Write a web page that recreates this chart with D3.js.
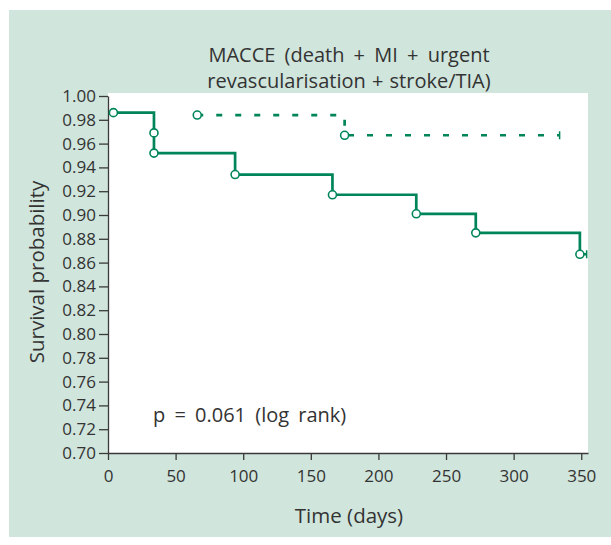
<!DOCTYPE html>
<html>
<head>
<meta charset="utf-8">
<script src="https://cdn.jsdelivr.net/npm/d3@7"></script>
<style>
  body { margin: 0; background: #fff; }
  text { font-family: "Open Sans", "Noto Sans", sans-serif; fill: #333; }
</style>
</head>
<body>
<script>
// solid curve: event times / survival after each step, then censored end
var solidTimes = [4, 34, 34, 94, 166, 228, 272, 349];
var solidSurv = [0.986, 0.969, 0.952, 0.934, 0.917, 0.901, 0.885, 0.867];
var solidCensor = 354;

// dashed curve
var dashTimes = [66, 175];
var dashSurv = [0.984, 0.967];
var dashCensor = 334;

var xTicks = [0, 50, 100, 150, 200, 250, 300, 350];
var yTicks = d3.range(0.70, 1.001, 0.02);

var titleLines = ["MACCE (death + MI + urgent", "revascularisation + stroke/TIA)"];
var pText = "p = 0.061 (log rank)";

var width = 611, height = 545;
var green = "#00855a";

var svg = d3.select("body").append("svg")
  .attr("width", width)
  .attr("height", height);

// panel
svg.append("rect")
  .attr("x", 9).attr("y", 10)
  .attr("width", width - 9).attr("height", 527)
  .attr("fill", "#d0e5dc");

var x = d3.scaleLinear().domain([0, 355]).range([108, 588]);
var y = d3.scaleLinear().domain([0.70, 1.00]).range([453, 96]);

svg.append("rect")
  .attr("x", x(0)).attr("y", 93)
  .attr("width", x(355) - x(0)).attr("height", y(0.70) - 93)
  .attr("fill", "white");

// title
svg.selectAll("text.title")
  .data(titleLines)
  .enter().append("text")
  .attr("class", "title")
  .attr("x", 349)
  .attr("y", function(d, i) { return 62 + i * 26; })
  .attr("text-anchor", "middle")
  .attr("font-size", 20)
  .attr("word-spacing", function(d, i) { return i == 0 ? 4 : 1; })
  .text(function(d) { return d; });

// axes
var xAxis = svg.append("g")
  .attr("transform", "translate(0," + y(0.70) + ")")
  .call(d3.axisBottom(x).tickValues(xTicks).tickSize(7).tickSizeOuter(0).tickPadding(10));
var yAxis = svg.append("g")
  .attr("transform", "translate(" + x(0) + ",0)")
  .call(d3.axisLeft(y).tickValues(yTicks).tickFormat(d3.format(".2f")).tickSize(9).tickSizeOuter(0).tickPadding(3));

[xAxis, yAxis].forEach(function(a) {
  a.selectAll("path, line").attr("stroke", "#3a3a3a").attr("stroke-width", 1.3);
  a.selectAll("text").attr("font-size", 17).attr("fill", "#333")
    .attr("font-family", "'Open Sans', 'Noto Sans', sans-serif");
});

svg.append("text")
  .attr("x", 349).attr("y", 523)
  .attr("text-anchor", "middle")
  .attr("font-size", 20.5)
  .text("Time (days)");

svg.append("text")
  .attr("transform", "translate(44,272) rotate(-90)")
  .attr("text-anchor", "middle")
  .attr("font-size", 20.5)
  .text("Survival probability");

svg.append("text")
  .attr("x", 153).attr("y", 422)
  .attr("font-size", 20)
  .attr("word-spacing", 4)
  .text(pText);

// curves
var step = d3.line()
  .x(function(d) { return x(d[0]); })
  .y(function(d) { return y(d[1]); })
  .curve(d3.curveStepAfter);

var solidPts = solidTimes.map(function(t, i) { return [t, solidSurv[i]]; });
var solidLine = solidPts.concat([[solidCensor, solidSurv[solidSurv.length - 1]]]);
var dashPts = dashTimes.map(function(t, i) { return [t, dashSurv[i]]; });
var dashLine = dashPts.concat([[dashCensor, dashSurv[dashSurv.length - 1]]]);

svg.append("path")
  .attr("d", step(solidLine))
  .attr("fill", "none")
  .attr("stroke", green)
  .attr("stroke-width", 2.7);

svg.append("path")
  .attr("d", step(dashLine))
  .attr("fill", "none")
  .attr("stroke", green)
  .attr("stroke-width", 2.7)
  .attr("stroke-dasharray", "6,13");

// censor ticks
[[solidCensor, solidSurv[solidSurv.length - 1]], [dashCensor, dashSurv[dashSurv.length - 1]]].forEach(function(c) {
  svg.append("line")
    .attr("x1", x(c[0])).attr("x2", x(c[0]))
    .attr("y1", y(c[1]) - 4).attr("y2", y(c[1]) + 4)
    .attr("stroke", green).attr("stroke-width", 1.5);
});

svg.selectAll("circle.ev")
  .data(solidPts.concat(dashPts))
  .enter().append("circle")
  .attr("class", "ev")
  .attr("cx", function(d) { return x(d[0]); })
  .attr("cy", function(d) { return y(d[1]); })
  .attr("r", 4)
  .attr("fill", "white")
  .attr("stroke", green)
  .attr("stroke-width", 1.6);
</script>
</body>
</html>
